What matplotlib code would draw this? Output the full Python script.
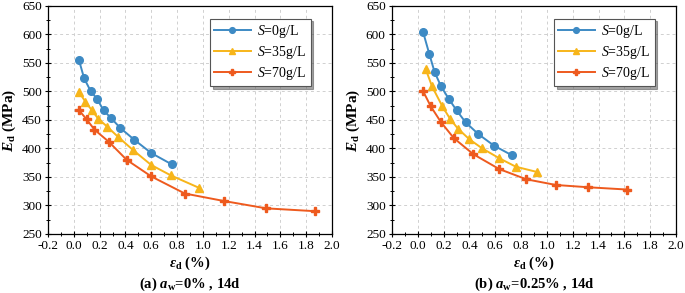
import numpy as np
import matplotlib.pyplot as plt
from matplotlib.ticker import MultipleLocator

plt.rcParams['font.family'] = ['Liberation Serif', 'DejaVu Serif']
plt.rcParams['mathtext.fontset'] = 'custom'
plt.rcParams['mathtext.rm'] = 'Liberation Serif'
plt.rcParams['mathtext.it'] = 'Liberation Serif:italic'
plt.rcParams['mathtext.bf'] = 'Liberation Serif:bold'
plt.rcParams['mathtext.bfit'] = 'Liberation Serif:italic:bold'

labels = ["$S$=0g/L", "$S$=35g/L", "$S$=70g/L"]
colors = ["#3d8ac4", "#f7b51a", "#ee5a1e"]
markers = ["o", "^", "P"]

# panel (a) aw=0%
a_x0 = [0.04, 0.08, 0.13, 0.18, 0.23, 0.29, 0.36, 0.47, 0.60, 0.76]
a_y0 = [555, 523, 501, 487, 467, 453, 436, 415, 392, 372]
a_x35 = [0.04, 0.09, 0.14, 0.19, 0.26, 0.34, 0.46, 0.60, 0.75, 0.97]
a_y35 = [499, 482, 467, 452, 438, 421, 397, 371, 353, 331]
a_x70 = [0.04, 0.10, 0.16, 0.27, 0.41, 0.60, 0.86, 1.16, 1.49, 1.87]
a_y70 = [467, 451, 433, 412, 380, 351, 321, 308, 295, 290]

# panel (b) aw=0.25%
b_x0 = [0.04, 0.09, 0.13, 0.18, 0.24, 0.30, 0.37, 0.47, 0.59, 0.73]
b_y0 = [605, 565, 534, 509, 487, 467, 446, 425, 405, 388]
b_x35 = [0.06, 0.11, 0.19, 0.25, 0.31, 0.40, 0.50, 0.63, 0.76, 0.92]
b_y35 = [540, 509, 474, 452, 435, 416, 400, 383, 368, 359]
b_x70 = [0.04, 0.10, 0.18, 0.28, 0.43, 0.63, 0.84, 1.07, 1.32, 1.62]
b_y70 = [501, 474, 446, 418, 390, 364, 346, 336, 332, 328]

panels = [
    ([(a_x0, a_y0), (a_x35, a_y35), (a_x70, a_y70)], r"(a) $\mathbfit{a}_{\mathbf{w}}$=0% , 14d"),
    ([(b_x0, b_y0), (b_x35, b_y35), (b_x70, b_y70)], r"(b) $\mathbfit{a}_{\mathbf{w}}$=0.25% , 14d"),
]

fig = plt.figure(figsize=(6.85, 2.93), dpi=100)
lefts = [48 / 685, 392 / 685]
w = 284 / 685
bottom = 1 - 234 / 293
h = 228 / 293

for (series, title), left in zip(panels, lefts):
    ax = fig.add_axes([left, bottom, w, h])
    for (x, y), lab, c, m in zip(series, labels, colors, markers):
        ax.plot(x, y, color=c, marker=m, markersize=5.5, lw=1.4, label=lab)
    ax.set_xlim(-0.2, 2.0)
    ax.set_ylim(250, 650)
    ax.xaxis.set_major_locator(MultipleLocator(0.2))
    ax.xaxis.set_minor_locator(MultipleLocator(0.1))
    ax.yaxis.set_major_locator(MultipleLocator(50))
    ax.yaxis.set_minor_locator(MultipleLocator(25))
    ax.set_xticklabels([f"{v:.1f}" for v in ax.get_xticks()])
    ax.tick_params(which='major', direction='inout', length=5, width=0.8, labelsize=9.5, pad=2)
    ax.tick_params(which='minor', direction='inout', length=3, width=0.7)
    ax.grid(True, which='major', ls=(0, (3, 3)), color='#d0d0d0', lw=0.7)
    for s in ax.spines.values():
        s.set_linewidth(0.9)
    ax.set_ylabel(r"$\mathbfit{E}_{\mathbf{d}}$ (MPa)", fontsize=11, fontweight='bold', labelpad=3)
    ax.set_xlabel(r"$\mathbfit{\varepsilon}_{\mathbf{d}}$ (%)" + "\n" + title,
                  fontsize=10.5, fontweight='bold', labelpad=2, linespacing=1.25)
    leg = ax.legend(loc='upper right', bbox_to_anchor=(0.925, 0.945), fontsize=10,
                    fancybox=False, shadow=True, edgecolor='#555555',
                    handlelength=2.6, borderpad=0.3, labelspacing=0.3,
                    handletextpad=0.5, borderaxespad=0.0, markerscale=0.75)
    leg.get_frame().set_linewidth(0.8)

fig.savefig("out.png", dpi=100)
